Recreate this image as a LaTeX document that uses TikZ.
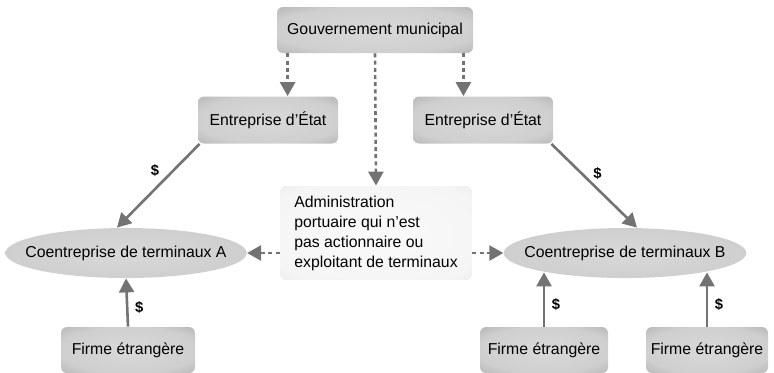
\documentclass[tikz,border=0pt]{standalone}
\usepackage{fontspec}
\setmainfont{Liberation Sans}
\usetikzlibrary{arrows.meta,shapes.geometric}

\pgfdeclareradialshading{glow}{\pgfpoint{0bp}{0bp}}{color(0bp)=(black!15); color(26bp)=(black!19); color(42bp)=(black!34); color(50bp)=(black!50); color(72bp)=(black!55)}
\pgfdeclareradialshading{softglow}{\pgfpoint{0bp}{0bp}}{color(0bp)=(black!2); color(30bp)=(black!4); color(46bp)=(black!11); color(50bp)=(black!17); color(72bp)=(black!20)}

\begin{document}
\begin{tikzpicture}[x=0.5pt, y=-0.5pt, >={Triangle[width=7.5pt,length=7pt]},
    box/.style={rounded corners=3pt, shading=glow, font=\fontsize{7.9}{10}\selectfont, minimum height=23pt, inner sep=0pt},
    oval/.style={ellipse, shading=glow, font=\fontsize{7.9}{10}\selectfont, minimum height=25pt, inner ysep=0pt},
    flow/.style={->, draw=black!55, line width=1.3pt},
    link/.style={flow, dash pattern=on 2pt off 1.6pt},
    money/.style={font=\bfseries\fontsize{7.4}{9}\selectfont}]
    \useasboundingbox (0,0) rectangle (774,372);

    % Top level
    \node[box, minimum width=98pt] (gov) at (375,30) {Gouvernement municipal};
    \node[box, minimum width=70pt, minimum height=23.5pt] (entL) at (268,120) {Entreprise d'État};
    \node[box, minimum width=70pt, minimum height=23.5pt] (entR) at (483,120) {Entreprise d'État};

    % Port authority
    \node[box, shading=softglow, minimum width=96pt, minimum height=47pt, align=left] (admin) at (376,233)
        {Administration\\portuaire qui n'est\\pas actionnaire ou\\exploitant de terminaux};

    % Joint ventures
    \node[oval, inner xsep=-7.6pt] (coA) at (126,253) {Coentreprise de terminaux A};
    \node[oval, inner xsep=-7.4pt] (coB) at (625,253) {Coentreprise de terminaux B};

    % Foreign firms
    \node[box, minimum width=67pt] (firmA) at (128,350) {Firme étrangère};
    \node[box, minimum width=64pt] (firmB) at (544,350) {Firme étrangère};
    \node[box, minimum width=61pt] (firmC) at (707,350) {Firme étrangère};

    % Control
    \draw[link] ([xshift=5.5pt]gov.south west) -- ([xshift=5.5pt]gov.south west |- entL.north);
    \draw[link] ([xshift=-5pt]gov.south east) -- ([xshift=-5pt]gov.south east |- entR.north);
    \draw[link] (gov.south) -- (admin.north);
    \draw[link] (admin.west |- coA.east) -- (coA.east);
    \draw[link] (admin.east |- coB.west) -- (coB.west);

    % Capital
    \draw[flow] ([xshift=1pt]entL.south west) -- ([xshift=-4.5pt]coA.north) node[money, pos=0.32, left=3pt] {\$};
    \draw[flow] ([xshift=-1pt]entR.south east) -- ([xshift=6pt]coB.north) node[money, pos=0.35, right=2pt] {\$};
    \draw[flow] (firmA.north) -- (coA.south) node[money, pos=0.4, right] {\$};
    \draw[flow] (firmB.north) -- ([yshift=3pt]firmB.north |- coB.south) node[money, pos=0.4, right] {\$};
    \draw[flow] (firmC.north) -- ([yshift=3pt]firmC.north |- coB.south) node[money, pos=0.4, right] {\$};
\end{tikzpicture}
\end{document}
